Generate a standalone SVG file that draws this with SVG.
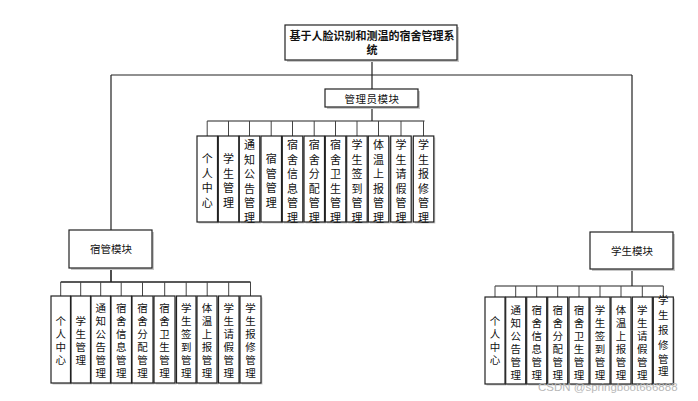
<svg xmlns="http://www.w3.org/2000/svg" width="698" height="401" viewBox="0 0 698 401">
<style>
text{font-family:"Noto Sans CJK SC","Liberation Sans",sans-serif;fill:#111}
.box{fill:#fff;stroke:#222;stroke-width:1.2}
.sh{fill:#c8c8c8}
.ln{stroke:#222;stroke-width:1.2;fill:none}
.tk{stroke:#444;stroke-width:1;fill:none}
.v{font-size:10.5px;text-anchor:middle;dominant-baseline:central}
.va{font-size:11px;text-anchor:middle;dominant-baseline:central}
.h{font-size:10.5px;text-anchor:middle;dominant-baseline:central}
.t{font-size:11px;font-weight:bold;text-anchor:middle;dominant-baseline:central}
</style>
<rect width="698" height="401" fill="#fff"/>
<g id="connectors">
<path class="ln" d="M372,60V89M111,75H632M111,75V230M632,75V232"/>
<path class="ln" d="M372,108V121M207.2,121H424.5"/>
<path class="tk" d="M207.2,121V136M228.5,121V136M249.5,121V136M271.2,121V136M292.5,121V136M314.2,121V136M335.5,121V136M357,121V136M378.5,121V136M401,121V136M423.5,121V136"/>
<path class="ln" d="M111,268V282M60.7,282H250.5" style="stroke-width:1.6"/>
<path class="tk" d="M60.7,282V296M80.7,282V296M100.7,282V296M121.2,282V296M142.5,282V296M164.7,282V296M186.2,282V296M207.2,282V296M228.7,282V296M250.5,282V296"/>
<path class="ln" d="M632,269V286M495,286H663.3"/>
<path class="tk" d="M495,286V297M515.7,286V297M536.7,286V297M557.7,286V297M579,286V297M600,286V297M621,286V297M642.3,286V297M663.3,286V297"/>
</g>
<g id="title">
<rect class="sh" x="287" y="27" width="172" height="35"/>
<rect class="box" x="285" y="25" width="172" height="35"/>
<text class="t" x="372" y="34.5">基于人脸识别和测温的宿舍管理系</text>
<text class="t" x="372" y="49">统</text>
</g>
<g id="admin">
<rect class="sh" x="327" y="91" width="93" height="18"/>
<rect class="box" x="325" y="89" width="93" height="18"/>
<text class="h" x="372" y="98.5" letter-spacing="0.5">管理员模块</text>
</g>
<g id="dorm">
<rect class="sh" x="71" y="232" width="83" height="38"/>
<rect class="box" x="69" y="230" width="83" height="38"/>
<text class="h" x="111" y="248.5">宿管模块</text>
</g>
<g id="student">
<rect class="sh" x="592" y="234" width="83" height="37"/>
<rect class="box" x="590" y="232" width="83" height="37"/>
<text class="h" x="632" y="250.5">学生模块</text>
</g>
<g id="admin-items">
<g id="a1"><rect class="sh" x="198.5" y="137.5" width="20.5" height="86"/><rect class="box" x="197" y="136" width="20.5" height="86"/><text class="va" x="207.2" y="158"><tspan x="207.2">个</tspan><tspan x="207.2" dy="14.6">人</tspan><tspan x="207.2" dy="14.6">中</tspan><tspan x="207.2" dy="14.6">心</tspan></text></g>
<g id="a2"><rect class="sh" x="219.8" y="137.5" width="20.5" height="86"/><rect class="box" x="218.3" y="136" width="20.5" height="86"/><text class="va" x="228.5" y="158"><tspan x="228.5">学</tspan><tspan x="228.5" dy="14.6">生</tspan><tspan x="228.5" dy="14.6">管</tspan><tspan x="228.5" dy="14.6">理</tspan></text></g>
<g id="a3"><rect class="sh" x="240.8" y="137.5" width="20.5" height="86"/><rect class="box" x="239.3" y="136" width="20.5" height="86"/><text class="va" x="249.5" y="144"><tspan x="249.5">通</tspan><tspan x="249.5" dy="14.6">知</tspan><tspan x="249.5" dy="14.6">公</tspan><tspan x="249.5" dy="14.6">告</tspan><tspan x="249.5" dy="14.6">管</tspan><tspan x="249.5" dy="14.6">理</tspan></text></g>
<g id="a4"><rect class="sh" x="262.5" y="137.5" width="20.5" height="86"/><rect class="box" x="261" y="136" width="20.5" height="86"/><text class="va" x="271.2" y="158"><tspan x="271.2">宿</tspan><tspan x="271.2" dy="14.6">管</tspan><tspan x="271.2" dy="14.6">管</tspan><tspan x="271.2" dy="14.6">理</tspan></text></g>
<g id="a5"><rect class="sh" x="283.8" y="137.5" width="20.5" height="86"/><rect class="box" x="282.3" y="136" width="20.5" height="86"/><text class="va" x="292.5" y="144"><tspan x="292.5">宿</tspan><tspan x="292.5" dy="14.6">舍</tspan><tspan x="292.5" dy="14.6">信</tspan><tspan x="292.5" dy="14.6">息</tspan><tspan x="292.5" dy="14.6">管</tspan><tspan x="292.5" dy="14.6">理</tspan></text></g>
<g id="a6"><rect class="sh" x="305.5" y="137.5" width="20.5" height="86"/><rect class="box" x="304" y="136" width="20.5" height="86"/><text class="va" x="314.2" y="144"><tspan x="314.2">宿</tspan><tspan x="314.2" dy="14.6">舍</tspan><tspan x="314.2" dy="14.6">分</tspan><tspan x="314.2" dy="14.6">配</tspan><tspan x="314.2" dy="14.6">管</tspan><tspan x="314.2" dy="14.6">理</tspan></text></g>
<g id="a7"><rect class="sh" x="326.8" y="137.5" width="20.5" height="86"/><rect class="box" x="325.3" y="136" width="20.5" height="86"/><text class="va" x="335.5" y="144"><tspan x="335.5">宿</tspan><tspan x="335.5" dy="14.6">舍</tspan><tspan x="335.5" dy="14.6">卫</tspan><tspan x="335.5" dy="14.6">生</tspan><tspan x="335.5" dy="14.6">管</tspan><tspan x="335.5" dy="14.6">理</tspan></text></g>
<g id="a8"><rect class="sh" x="348.2" y="137.5" width="20.5" height="86"/><rect class="box" x="346.7" y="136" width="20.5" height="86"/><text class="va" x="357" y="144"><tspan x="357">学</tspan><tspan x="357" dy="14.6">生</tspan><tspan x="357" dy="14.6">签</tspan><tspan x="357" dy="14.6">到</tspan><tspan x="357" dy="14.6">管</tspan><tspan x="357" dy="14.6">理</tspan></text></g>
<g id="a9"><rect class="sh" x="369.8" y="137.5" width="20.5" height="86"/><rect class="box" x="368.3" y="136" width="20.5" height="86"/><text class="va" x="378.5" y="144"><tspan x="378.5">体</tspan><tspan x="378.5" dy="14.6">温</tspan><tspan x="378.5" dy="14.6">上</tspan><tspan x="378.5" dy="14.6">报</tspan><tspan x="378.5" dy="14.6">管</tspan><tspan x="378.5" dy="14.6">理</tspan></text></g>
<g id="a10"><rect class="sh" x="392.2" y="137.5" width="20.5" height="86"/><rect class="box" x="390.7" y="136" width="20.5" height="86"/><text class="va" x="401" y="144"><tspan x="401">学</tspan><tspan x="401" dy="14.6">生</tspan><tspan x="401" dy="14.6">请</tspan><tspan x="401" dy="14.6">假</tspan><tspan x="401" dy="14.6">管</tspan><tspan x="401" dy="14.6">理</tspan></text></g>
<g id="a11"><rect class="sh" x="414.8" y="137.5" width="20.5" height="86"/><rect class="box" x="413.3" y="136" width="20.5" height="86"/><text class="va" x="423.5" y="144"><tspan x="423.5">学</tspan><tspan x="423.5" dy="14.6">生</tspan><tspan x="423.5" dy="14.6">报</tspan><tspan x="423.5" dy="14.6">修</tspan><tspan x="423.5" dy="14.6">管</tspan><tspan x="423.5" dy="14.6">理</tspan></text></g>
</g>
<g id="dorm-items">
<g id="d1"><rect class="sh" x="52.5" y="297.5" width="19.5" height="87"/><rect class="box" x="51" y="296" width="19.5" height="87"/><text class="v" x="60.7" y="320"><tspan x="60.7">个</tspan><tspan x="60.7" dy="13">人</tspan><tspan x="60.7" dy="13">中</tspan><tspan x="60.7" dy="13">心</tspan></text></g>
<g id="d2"><rect class="sh" x="72.5" y="297.5" width="19.5" height="87"/><rect class="box" x="71" y="296" width="19.5" height="87"/><text class="v" x="80.7" y="320"><tspan x="80.7">学</tspan><tspan x="80.7" dy="13">生</tspan><tspan x="80.7" dy="13">管</tspan><tspan x="80.7" dy="13">理</tspan></text></g>
<g id="d3"><rect class="sh" x="92.5" y="297.5" width="19.5" height="87"/><rect class="box" x="91" y="296" width="19.5" height="87"/><text class="v" x="100.7" y="307"><tspan x="100.7">通</tspan><tspan x="100.7" dy="13">知</tspan><tspan x="100.7" dy="13">公</tspan><tspan x="100.7" dy="13">告</tspan><tspan x="100.7" dy="13">管</tspan><tspan x="100.7" dy="13">理</tspan></text></g>
<g id="d4"><rect class="sh" x="112.5" y="297.5" width="20.5" height="87"/><rect class="box" x="111" y="296" width="20.5" height="87"/><text class="v" x="121.2" y="307"><tspan x="121.2">宿</tspan><tspan x="121.2" dy="13">舍</tspan><tspan x="121.2" dy="13">信</tspan><tspan x="121.2" dy="13">息</tspan><tspan x="121.2" dy="13">管</tspan><tspan x="121.2" dy="13">理</tspan></text></g>
<g id="d5"><rect class="sh" x="133.5" y="297.5" width="21" height="87"/><rect class="box" x="132" y="296" width="21" height="87"/><text class="v" x="142.5" y="307"><tspan x="142.5">宿</tspan><tspan x="142.5" dy="13">舍</tspan><tspan x="142.5" dy="13">分</tspan><tspan x="142.5" dy="13">配</tspan><tspan x="142.5" dy="13">管</tspan><tspan x="142.5" dy="13">理</tspan></text></g>
<g id="d6"><rect class="sh" x="155.5" y="297.5" width="21" height="87"/><rect class="box" x="154" y="296" width="21" height="87"/><text class="v" x="164.5" y="307"><tspan x="164.5">宿</tspan><tspan x="164.5" dy="13">舍</tspan><tspan x="164.5" dy="13">卫</tspan><tspan x="164.5" dy="13">生</tspan><tspan x="164.5" dy="13">管</tspan><tspan x="164.5" dy="13">理</tspan></text></g>
<g id="d7"><rect class="sh" x="178" y="297.5" width="19.5" height="87"/><rect class="box" x="176.5" y="296" width="19.5" height="87"/><text class="v" x="186.2" y="307"><tspan x="186.2">学</tspan><tspan x="186.2" dy="13">生</tspan><tspan x="186.2" dy="13">签</tspan><tspan x="186.2" dy="13">到</tspan><tspan x="186.2" dy="13">管</tspan><tspan x="186.2" dy="13">理</tspan></text></g>
<g id="d8"><rect class="sh" x="198.5" y="297.5" width="20" height="87"/><rect class="box" x="197" y="296" width="20" height="87"/><text class="v" x="207" y="307"><tspan x="207">体</tspan><tspan x="207" dy="13">温</tspan><tspan x="207" dy="13">上</tspan><tspan x="207" dy="13">报</tspan><tspan x="207" dy="13">管</tspan><tspan x="207" dy="13">理</tspan></text></g>
<g id="d9"><rect class="sh" x="220" y="297.5" width="20.5" height="87"/><rect class="box" x="218.5" y="296" width="20.5" height="87"/><text class="v" x="228.7" y="307"><tspan x="228.7">学</tspan><tspan x="228.7" dy="13">生</tspan><tspan x="228.7" dy="13">请</tspan><tspan x="228.7" dy="13">假</tspan><tspan x="228.7" dy="13">管</tspan><tspan x="228.7" dy="13">理</tspan></text></g>
<g id="d10"><rect class="sh" x="241.5" y="297.5" width="21" height="87"/><rect class="box" x="240" y="296" width="21" height="87"/><text class="v" x="250.5" y="307"><tspan x="250.5">学</tspan><tspan x="250.5" dy="13">生</tspan><tspan x="250.5" dy="13">报</tspan><tspan x="250.5" dy="13">修</tspan><tspan x="250.5" dy="13">管</tspan><tspan x="250.5" dy="13">理</tspan></text></g>
</g>
<g id="student-items">
<g id="s1"><rect class="sh" x="486.5" y="298.5" width="20" height="87"/><rect class="box" x="485" y="297" width="20" height="87"/><text class="v" x="495" y="320"><tspan x="495">个</tspan><tspan x="495" dy="13">人</tspan><tspan x="495" dy="13">中</tspan><tspan x="495" dy="13">心</tspan></text></g>
<g id="s2"><rect class="sh" x="507.2" y="298.5" width="20" height="87"/><rect class="box" x="505.7" y="297" width="20" height="87"/><text class="v" x="515.7" y="308.5"><tspan x="515.7">通</tspan><tspan x="515.7" dy="13">知</tspan><tspan x="515.7" dy="13">公</tspan><tspan x="515.7" dy="13">告</tspan><tspan x="515.7" dy="13">管</tspan><tspan x="515.7" dy="13">理</tspan></text></g>
<g id="s3"><rect class="sh" x="528.2" y="298.5" width="20" height="87"/><rect class="box" x="526.7" y="297" width="20" height="87"/><text class="v" x="536.7" y="308.5"><tspan x="536.7">宿</tspan><tspan x="536.7" dy="13">舍</tspan><tspan x="536.7" dy="13">信</tspan><tspan x="536.7" dy="13">息</tspan><tspan x="536.7" dy="13">管</tspan><tspan x="536.7" dy="13">理</tspan></text></g>
<g id="s4"><rect class="sh" x="549.2" y="298.5" width="20" height="87"/><rect class="box" x="547.7" y="297" width="20" height="87"/><text class="v" x="557.7" y="308.5"><tspan x="557.7">宿</tspan><tspan x="557.7" dy="13">舍</tspan><tspan x="557.7" dy="13">分</tspan><tspan x="557.7" dy="13">配</tspan><tspan x="557.7" dy="13">管</tspan><tspan x="557.7" dy="13">理</tspan></text></g>
<g id="s5"><rect class="sh" x="570.5" y="298.5" width="20" height="87"/><rect class="box" x="569" y="297" width="20" height="87"/><text class="v" x="579" y="308.5"><tspan x="579">宿</tspan><tspan x="579" dy="13">舍</tspan><tspan x="579" dy="13">卫</tspan><tspan x="579" dy="13">生</tspan><tspan x="579" dy="13">管</tspan><tspan x="579" dy="13">理</tspan></text></g>
<g id="s6"><rect class="sh" x="591.5" y="298.5" width="20" height="87"/><rect class="box" x="590" y="297" width="20" height="87"/><text class="v" x="600" y="308.5"><tspan x="600">学</tspan><tspan x="600" dy="13">生</tspan><tspan x="600" dy="13">签</tspan><tspan x="600" dy="13">到</tspan><tspan x="600" dy="13">管</tspan><tspan x="600" dy="13">理</tspan></text></g>
<g id="s7"><rect class="sh" x="612.5" y="298.5" width="20" height="87"/><rect class="box" x="611" y="297" width="20" height="87"/><text class="v" x="621" y="308.5"><tspan x="621">体</tspan><tspan x="621" dy="13">温</tspan><tspan x="621" dy="13">上</tspan><tspan x="621" dy="13">报</tspan><tspan x="621" dy="13">管</tspan><tspan x="621" dy="13">理</tspan></text></g>
<g id="s8"><rect class="sh" x="633.8" y="298.5" width="20" height="87"/><rect class="box" x="632.3" y="297" width="20" height="87"/><text class="v" x="642.3" y="308.5"><tspan x="642.3">学</tspan><tspan x="642.3" dy="13">生</tspan><tspan x="642.3" dy="13">请</tspan><tspan x="642.3" dy="13">假</tspan><tspan x="642.3" dy="13">管</tspan><tspan x="642.3" dy="13">理</tspan></text></g>
<g id="s9"><rect class="sh" x="654.8" y="298.5" width="20" height="87"/><rect class="box" x="653.3" y="297" width="20" height="87"/><text class="v" x="663.3" y="299"><tspan x="663.3">学</tspan><tspan x="663.3" dy="15">生</tspan><tspan x="663.3" dy="15">报</tspan><tspan x="663.3" dy="15">修</tspan><tspan x="663.3" dy="14">管</tspan><tspan x="663.3" dy="12">理</tspan></text></g>
</g>
<text x="538" y="391" style="font-family:'Liberation Sans',sans-serif;font-size:11.5px;fill:#b8b8b8">CSDN @springboot666888</text>
</svg>
